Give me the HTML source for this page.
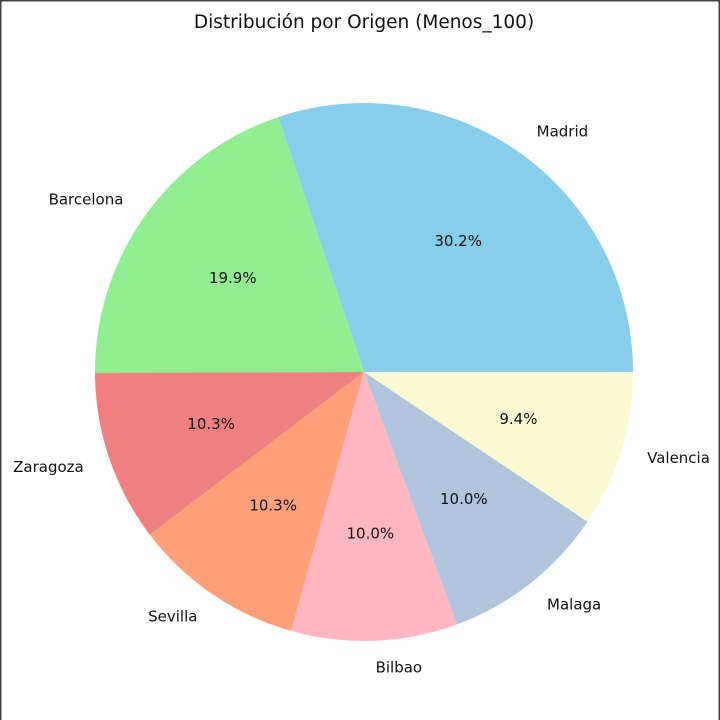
<!DOCTYPE html>
<html><head><meta charset="utf-8"><style>
html,body{margin:0;padding:0;background:#fff}
svg{display:block}
text{font-family:"DejaVu Sans","Liberation Sans",sans-serif;font-size:15px;fill:#111}
</style></head><body>
<svg id="chart" width="720" height="720">
<rect x="0.5" y="0.5" width="719" height="730" fill="#fff" stroke="#444" stroke-width="2"/>
<text x="364" y="28" text-anchor="middle" style="font-size:18.5px">Distribución por Origen (Menos_100)</text>
<g id="slices"></g>
</svg>
<script>
const categories = ["Madrid","Barcelona","Zaragoza","Sevilla","Bilbao","Malaga","Valencia"];
const values = [30.2,19.9,10.3,10.3,10.0,10.0,9.4];
const colors = ["#87ceeb","#90ee90","#f08080","#ffa07a","#ffb6c1","#b0c4de","#fafad2"];
const cx=364, cy=372, r=269;
const g=document.getElementById('slices');
const ns="http://www.w3.org/2000/svg";
const total=values.reduce((a,b)=>a+b,0);
let a0=0;
function pt(a,rr){return [cx+rr*Math.cos(a*Math.PI/180), cy-rr*Math.sin(a*Math.PI/180)];}
values.forEach((v,i)=>{
  const sweep=v/total*360, a1=a0+sweep;
  const p0=pt(a0,r), p1=pt(a1,r);
  const path=document.createElementNS(ns,'path');
  path.setAttribute('d',`M${cx},${cy} L${p0[0]},${p0[1]} A${r},${r} 0 ${sweep>180?1:0} 0 ${p1[0]},${p1[1]} Z`);
  path.setAttribute('fill',colors[i]);
  
  
  g.appendChild(path);
  const mid=(a0+a1)/2;
  const lp=pt(mid,r*1.1);
  const t=document.createElementNS(ns,'text');
  const c=Math.cos(mid*Math.PI/180);
  t.setAttribute('x',lp[0]);t.setAttribute('y',lp[1]+5);
  t.setAttribute('text-anchor',c>0.01?'start':(c<-0.01?'end':'middle'));
  t.textContent=categories[i];
  
  
  g.appendChild(t);
  const pp=pt(mid,r*0.6);
  const pt2=document.createElementNS(ns,'text');
  pt2.setAttribute('x',pp[0]);pt2.setAttribute('y',pp[1]+5);
  pt2.setAttribute('text-anchor','middle');
  pt2.textContent=v.toFixed(1)+'%';
  
  
  g.appendChild(pt2);
  a0=a1;
});
</script>
</body></html>
